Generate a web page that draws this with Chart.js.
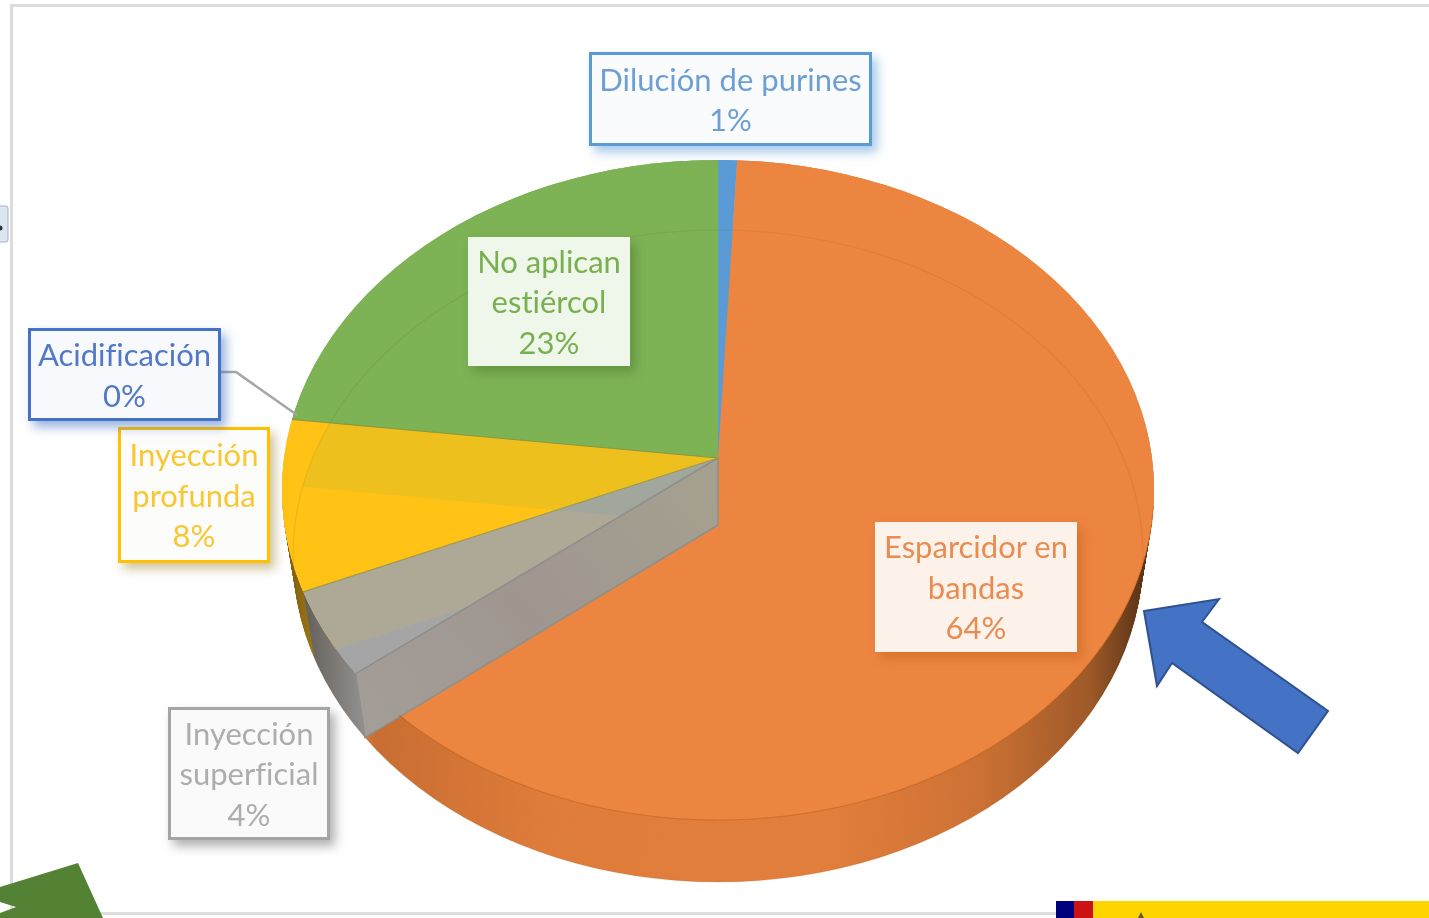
<!DOCTYPE html>
<html>
<head>
<meta charset="utf-8">
<title>Aplicación de purines</title>
<script src="https://cdn.jsdelivr.net/npm/chart.js@4"></script>
<style>
    html, body { margin: 0; padding: 0; background: #fff; overflow: hidden; }
    #stage { position: relative; width: 1429px; height: 918px; overflow: hidden; filter: blur(0.6px); }
    #stage canvas, #stage svg { position: absolute; left: 0; top: 0; }
    .tag {
        position: absolute;
        box-sizing: border-box;
        display: flex;
        align-items: center;
        justify-content: center;
        text-align: center;
        font-family: Lato, "Open Sans", sans-serif;
        font-size: 31px;
        font-variant-ligatures: none;
        line-height: 40.5px;
    }
</style>
</head>
<body>
<div id="stage">
    <canvas id="pieChart" width="1429" height="918"></canvas>
    <svg width="1429" height="918" viewBox="0 0 1429 918">
        <!-- slide frame -->
        <path d="M11.5 918V5.5H1429" fill="none" stroke="#dcdcdc" stroke-width="3"/>
        <path d="M100 913.5H1056" fill="none" stroke="#dedede" stroke-width="3"/>
        <!-- leftover box at the left edge -->
        <rect x="-4" y="206" width="12" height="36" rx="2" fill="#dce6f2" stroke="#a9b4c0" stroke-width="1"/>
        <circle cx="0" cy="228" r="2.5" fill="#333"/>
        <!-- leader line of Acidificación -->
        <path d="M220 372H236L297 415" fill="none" stroke="#a6a6a6" stroke-width="2.5"/>
        <!-- arrows -->
        <polygon points="1144,611 1219,599 1202,622 1328,711 1298,753 1172,663 1157,686" fill="#4472c4" stroke="#2f528f" stroke-width="2"/>
        <polygon points="0,887 78,863 103,918 0,918 0,913 16,907 0,902" fill="#548235"/>
        <!-- flag strip -->
        <rect x="1056" y="901" width="18" height="17" fill="#00007f"/>
        <rect x="1074" y="901" width="19" height="17" fill="#cc1212"/>
        <rect x="1093" y="901" width="336" height="17" fill="#ffd500"/>
        <polygon points="1141,912 1144,918 1138,918" fill="#6d5a12"/>
    </svg>
</div>

<script>
// Chart data (the printed labels are rounded)
const categories = ['Dilución de purines', 'Esparcidor en bandas', 'Inyección superficial', 'Inyección profunda', 'Acidificación', 'No aplican estiércol'];
const shares = [0.7, 64.4, 4, 8, 0, 22.9];
const sliceColors = ['#5b9bd5', '#ec8540', '#a5a5a5', '#ffc216', '#4472c4', '#7db255'];
const sliceAlpha = [1, 1, 0.9, 0.87, 1, 1];

// Label boxes, same order as categories
const tagBoxes = [
    { left: 589, top: 52, width: 283, height: 94, color: '#6d9fd3', border: '#5b9bd5', bg: 'rgba(250,251,253,0.97)', shadow: 'rgba(91,155,213,0.55)' },
    { left: 875, top: 522, width: 202, height: 130, color: '#e88c52', border: 'none', bg: 'rgba(255,255,255,0.89)', shadow: 'rgba(190,90,20,0.45)' },
    { left: 168, top: 707, width: 162, height: 133, color: '#adadad', border: '#a5a5a5', bg: 'rgba(250,250,250,0.97)', shadow: 'rgba(110,110,110,0.55)' },
    { left: 118, top: 427, width: 152, height: 136, color: '#f8c733', border: '#ffc000', bg: 'rgba(252,252,250,0.97)', shadow: 'rgba(150,120,30,0.45)' },
    { left: 28, top: 328, width: 193, height: 93, color: '#5279c6', border: '#4472c4', bg: 'rgba(248,249,252,0.97)', shadow: 'rgba(68,114,196,0.55)' },
    { left: 468, top: 237, width: 162, height: 129, color: '#78b04f', border: 'none', bg: 'rgba(255,255,255,0.88)', shadow: 'rgba(70,110,40,0.45)' }
];

// Pie geometry: top face, bottom face (the apex is not in the middle of the ellipse)
const topFace = { vy: 458, cy: 490, rx: 436, ry: 330 };
const bottomFace = { vy: 525, cy: 556, rx: 425, ry: 326 };
const centerX = 718;
const overscan = 1.35;

function faceAt(t) {
    return {
        vy: bottomFace.vy + (topFace.vy - bottomFace.vy) * t,
        cy: bottomFace.cy + (topFace.cy - bottomFace.cy) * t,
        rx: bottomFace.rx + (topFace.rx - bottomFace.rx) * t,
        ry: bottomFace.ry + (topFace.ry - bottomFace.ry) * t
    };
}

function ellipsePath(ctx, face) {
    ctx.ellipse(centerX, face.cy, face.rx, face.ry, 0, 0, Math.PI * 2);
}

// Scale of the y axis above and below the apex, so rays meet the ellipse at the right spot
function faceScaleY(face, upper) {
    return upper ? face.vy - (face.cy - face.ry) : (face.cy + face.ry) - face.vy;
}

function drawFace(ctx, arcs, face, alphas) {
    ctx.save();
    ctx.beginPath();
    ellipsePath(ctx, face);
    ctx.clip();
    [true, false].forEach(function(upper) {
        ctx.save();
        ctx.beginPath();
        if (upper) ctx.rect(0, 0, 1429, face.vy);
        else ctx.rect(0, face.vy, 1429, 918 - face.vy);
        ctx.clip();
        arcs.forEach(function(arc, i) {
            const r = arc.outerRadius;
            ctx.save();
            ctx.globalAlpha = alphas ? alphas[i] : 1;
            ctx.translate(centerX, face.vy);
            ctx.scale(overscan * face.rx / r, overscan * faceScaleY(face, upper) / r);
            ctx.translate(-arc.x, -arc.y);
            arc.draw(ctx);
            ctx.restore();
        });
        ctx.restore();
    });
    ctx.restore();
}

// Point where the ray of a slice edge hits the ellipse of a face
function rayEnd(face, angle) {
    const dx = Math.cos(angle) * face.rx;
    const dy = Math.sin(angle) * faceScaleY(face, Math.sin(angle) < 0);
    let lo = 0, hi = overscan;
    for (let i = 0; i < 30; i++) {
        const m = (lo + hi) / 2;
        const ex = dx * m / face.rx;
        const ey = (face.vy + dy * m - face.cy) / face.ry;
        if (ex * ex + ey * ey < 1) lo = m; else hi = m;
    }
    return { x: centerX + dx * lo, y: face.vy + dy * lo };
}

const pie3d = {
    id: 'pie3d',
    beforeDatasetsDraw(chart) {
        const ctx = chart.ctx;
        const arcs = chart.getDatasetMeta(0).data;

        // side wall: sweep the slices from the bottom to the top face, outside the top ellipse
        ctx.save();
        ctx.beginPath();
        ctx.rect(0, 0, 1429, 918);
        ellipsePath(ctx, topFace);
        ctx.clip('evenodd');
        for (let t = 0; t <= 1; t += 1 / 70) {
            drawFace(ctx, arcs, faceAt(t), null);
        }
        // wall shading, only where the wall was painted
        ctx.globalCompositeOperation = 'source-atop';
        const shade = ctx.createLinearGradient(290, 0, 1150, 0);
        shade.addColorStop(0, 'rgba(40,30,20,0.6)');
        shade.addColorStop(0.09, 'rgba(40,30,20,0.12)');
        shade.addColorStop(0.1, 'rgba(70,30,0,0.22)');
        shade.addColorStop(0.3, 'rgba(70,30,0,0.08)');
        shade.addColorStop(0.62, 'rgba(70,30,0,0.06)');
        shade.addColorStop(0.8, 'rgba(60,30,5,0.18)');
        shade.addColorStop(0.93, 'rgba(50,30,10,0.42)');
        shade.addColorStop(1, 'rgba(40,25,10,0.8)');
        ctx.fillStyle = shade;
        ctx.fillRect(0, 0, 1429, 918);
        ctx.restore();

        // solid top face first, so the rim past the bottom face keeps its full colour
        drawFace(ctx, arcs, topFace, null);

        // bottom face shows through the glassy slices of the top face
        ctx.save();
        ctx.beginPath();
        ellipsePath(ctx, topFace);
        ctx.clip();
        drawFace(ctx, arcs, bottomFace, null);
        ctx.restore();
        drawFace(ctx, arcs, topFace, sliceAlpha);

        const grayArc = arcs[2];
        const a = rayEnd(topFace, grayArc.startAngle);
        const b = rayEnd(bottomFace, grayArc.startAngle);

        // cut wall of the orange slice, seen through
        ctx.save();
        ctx.beginPath();
        ctx.moveTo(centerX, topFace.vy);
        ctx.lineTo(a.x, a.y);
        ctx.lineTo(b.x, b.y);
        ctx.lineTo(centerX, bottomFace.vy);
        ctx.closePath();
        const wall = ctx.createLinearGradient(b.x, b.y, centerX, topFace.vy);
        wall.addColorStop(0, '#a49e98');
        wall.addColorStop(0.45, '#9f9690');
        wall.addColorStop(1, '#a5a18f');
        ctx.fillStyle = wall;
        ctx.fill();
        ctx.strokeStyle = '#8d8f8c';
        ctx.lineWidth = 1.5;
        ctx.stroke();
        ctx.restore();

        // thin edges between slices of the top face
        ctx.save();
        ctx.lineWidth = 1.2;
        [[arcs[3].startAngle, '#9c9a55'], [arcs[5].startAngle, '#8f9a3c']].forEach(function(edge) {
            const p = rayEnd(topFace, edge[0]);
            ctx.strokeStyle = edge[1];
            ctx.beginPath();
            ctx.moveTo(centerX, topFace.vy);
            ctx.lineTo(p.x, p.y);
            ctx.stroke();
        });
        // faint rims of both faces
        ctx.strokeStyle = 'rgba(130,70,20,0.12)';
        ctx.beginPath();
        ellipsePath(ctx, bottomFace);
        ctx.stroke();
        ctx.strokeStyle = 'rgba(170,80,15,0.4)';
        ctx.beginPath();
        ctx.ellipse(centerX, topFace.cy, topFace.rx, topFace.ry, 0, 0.05, Math.PI - 0.75);
        ctx.stroke();
        ctx.restore();

        return false;
    }
};

const pieCtx = document.getElementById('pieChart').getContext('2d');
const pieChart = new Chart(pieCtx, {
    type: 'pie',
    data: {
        labels: categories,
        datasets: [{
            data: shares,
            backgroundColor: sliceColors,
            borderWidth: 0
        }]
    },
    options: {
        responsive: false,
        animation: false,
        plugins: {
            legend: { display: false },
            tooltip: { enabled: false }
        }
    },
    plugins: [pie3d]
});

// Data labels as real text
const stage = document.getElementById('stage');
categories.forEach(function(name, i) {
    const box = tagBoxes[i];
    const tag = document.createElement('div');
    tag.className = 'tag';
    tag.style.left = box.left + 'px';
    tag.style.top = box.top + 'px';
    tag.style.width = box.width + 'px';
    tag.style.height = box.height + 'px';
    tag.style.color = box.color;
    tag.style.background = box.bg;
    tag.style.border = box.border === 'none' ? 'none' : '3px solid ' + box.border;
    tag.style.boxShadow = '5px 6px 10px ' + box.shadow;
    const inner = document.createElement('div');
    inner.innerHTML = name + '<br>' + Math.round(shares[i]) + '%';
    tag.appendChild(inner);
    stage.appendChild(tag);
});
</script>
</body>
</html>
